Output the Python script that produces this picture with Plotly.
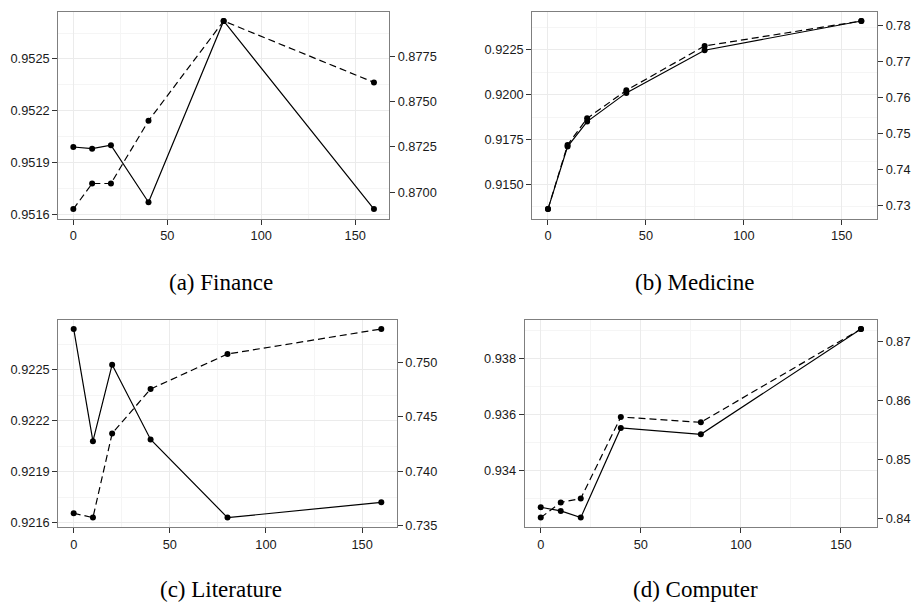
import plotly.graph_objects as go

# ---------------- data ----------------
x_vals = [0, 10, 20, 40, 80, 160]

finance_left = [0.95199, 0.95198, 0.95200, 0.95167, 0.95272, 0.95163]
finance_right = [0.86908, 0.87049, 0.87049, 0.87394, 0.87943, 0.87605]

medicine_left = [0.91362, 0.91711, 0.91850, 0.92010, 0.92248, 0.92411]
medicine_right = [0.72909, 0.74685, 0.75423, 0.76197, 0.77426, 0.78118]

literature_left = [0.92274, 0.92208, 0.92253, 0.92209, 0.92163, 0.92172]
literature_right = [0.73615, 0.73575, 0.74347, 0.74755, 0.75076, 0.75306]

computer_left = [0.93269, 0.93256, 0.93232, 0.93553, 0.93530, 0.93907]
computer_right = [0.84011, 0.84268, 0.84335, 0.85715, 0.85626, 0.87207]

captions = ["(a) Finance", "(b) Medicine", "(c) Literature", "(d) Computer"]

x_ticks = [0, 50, 100, 150]
x_minor = [25, 75, 125]

finance_left_ticks = [0.9516, 0.9519, 0.9522, 0.9525]
finance_left_minor = [0.95175, 0.95205, 0.95235, 0.95265]
finance_right_ticks = [0.8700, 0.8725, 0.8750, 0.8775]

medicine_left_ticks = [0.9150, 0.9175, 0.9200, 0.9225]
medicine_left_minor = [0.91375, 0.91625, 0.91875, 0.92125, 0.92375]
medicine_right_ticks = [0.73, 0.74, 0.75, 0.76, 0.77, 0.78]

literature_left_ticks = [0.9216, 0.9219, 0.9222, 0.9225]
literature_left_minor = [0.92175, 0.92205, 0.92235, 0.92265]
literature_right_ticks = [0.735, 0.740, 0.745, 0.750]

computer_left_ticks = [0.934, 0.936, 0.938]
computer_left_minor = [0.933, 0.935, 0.937, 0.939]
computer_right_ticks = [0.84, 0.85, 0.86, 0.87]

panels = [
    dict(left=finance_left, right=finance_right, lt=finance_left_ticks, lm=finance_left_minor,
         lf=".4f", rt=finance_right_ticks, rf=".4f",
         xdom=[0.0638, 0.4256], ydom=[0.6370, 0.9808], cap=captions[0], capxy=(221, 285)),
    dict(left=medicine_left, right=medicine_right, lt=medicine_left_ticks, lm=medicine_left_minor,
         lf=".4f", rt=medicine_right_ticks, rf=".2f",
         xdom=[0.5824, 0.9595], ydom=[0.6370, 0.9808], cap=captions[1], capxy=(694, 285)),
    dict(left=literature_left, right=literature_right, lt=literature_left_ticks, lm=literature_left_minor,
         lf=".4f", rt=literature_right_ticks, rf=".3f",
         xdom=[0.0638, 0.4340], ydom=[0.1245, 0.4692], cap=captions[2], capxy=(221, 595)),
    dict(left=computer_left, right=computer_right, lt=computer_left_ticks, lm=computer_left_minor,
         lf=".3f", rt=computer_right_ticks, rf=".2f",
         xdom=[0.5741, 0.9595], ydom=[0.1245, 0.4692], cap=captions[3], capxy=(695, 595)),
]


def expand(vals, frac=0.05):
    lo, hi = min(vals), max(vals)
    d = (hi - lo) * frac
    return [lo - d, hi + d]


W, H = 914, 608
BORDER = "#7f7f7f"
GRID = "#ebebeb"
MINOR = "#f5f5f5"
TICKFONT = dict(family="Liberation Sans, Arial, sans-serif", size=12.8, color="#1a1a1a")

fig = go.Figure()
layout = dict(
    width=W, height=H,
    margin=dict(l=0, r=0, t=0, b=0),
    paper_bgcolor="white", plot_bgcolor="white",
    showlegend=False,
    annotations=[],
)

for i, p in enumerate(panels):
    n = i + 1
    xa = f"x{n}" if n > 1 else "x"
    yl_id = 2 * i + 1
    yr_id = 2 * i + 2
    yl = f"y{yl_id}" if yl_id > 1 else "y"
    yr = f"y{yr_id}"

    fig.add_trace(go.Scatter(
        x=x_vals, y=p["left"], xaxis=xa, yaxis=yl, mode="lines+markers",
        line=dict(color="black", width=1.2),
        marker=dict(color="black", size=6), hoverinfo="skip"))
    fig.add_trace(go.Scatter(
        x=x_vals, y=p["right"], xaxis=xa, yaxis=yr, mode="lines+markers",
        line=dict(color="black", width=1.2, dash="7px,4px"),
        marker=dict(color="black", size=6), hoverinfo="skip"))

    xkey = f"xaxis{n}" if n > 1 else "xaxis"
    ylkey = f"yaxis{yl_id}" if yl_id > 1 else "yaxis"
    yrkey = f"yaxis{yr_id}"

    layout[xkey] = dict(
        domain=p["xdom"], anchor=yl, range=expand(x_vals),
        tickmode="array", tickvals=x_ticks, ticks="outside", ticklen=5, tickwidth=1,
        tickcolor="#333333", tickfont=TICKFONT,
        showgrid=True, gridcolor=GRID, gridwidth=1,
        minor=dict(tickmode="array", tickvals=x_minor, showgrid=True, gridcolor=MINOR, gridwidth=1, ticks=""),
        showline=True, linecolor=BORDER, linewidth=1.2, mirror=True,
        zeroline=False, fixedrange=True,
    )
    layout[ylkey] = dict(
        domain=p["ydom"], anchor=xa, range=expand(p["left"]),
        tickmode="array", tickvals=p["lt"], tickformat=p["lf"],
        ticks="outside", ticklen=5, tickwidth=1, tickcolor="#333333", tickfont=TICKFONT,
        showgrid=True, gridcolor=GRID, gridwidth=1,
        minor=dict(tickmode="array", tickvals=p["lm"], showgrid=True, gridcolor=MINOR, gridwidth=1, ticks=""),
        showline=True, linecolor=BORDER, linewidth=1.2,
        zeroline=False, fixedrange=True,
    )
    layout[yrkey] = dict(
        domain=p["ydom"], anchor=xa, overlaying=yl, side="right", range=expand(p["right"]),
        tickmode="array", tickvals=p["rt"], tickformat=p["rf"],
        ticks="outside", ticklen=5, tickwidth=1, tickcolor="#333333", tickfont=TICKFONT,
        showgrid=False, showline=True, linecolor=BORDER, linewidth=1.2,
        zeroline=False, fixedrange=True,
    )

    cx, cy = p["capxy"]
    layout["annotations"].append(dict(
        text=p["cap"], xref="paper", yref="paper",
        x=cx / W, y=1 - cy / H, xanchor="center", yanchor="middle",
        showarrow=False,
        font=dict(family="Liberation Serif, Times New Roman, serif", size=23, color="black"),
    ))

fig.update_layout(**layout)
fig.write_html(
    "out.html",
    config={"displayModeBar": False},
    post_script="document.body.style.margin='0';document.body.style.overflow='hidden';",
)
